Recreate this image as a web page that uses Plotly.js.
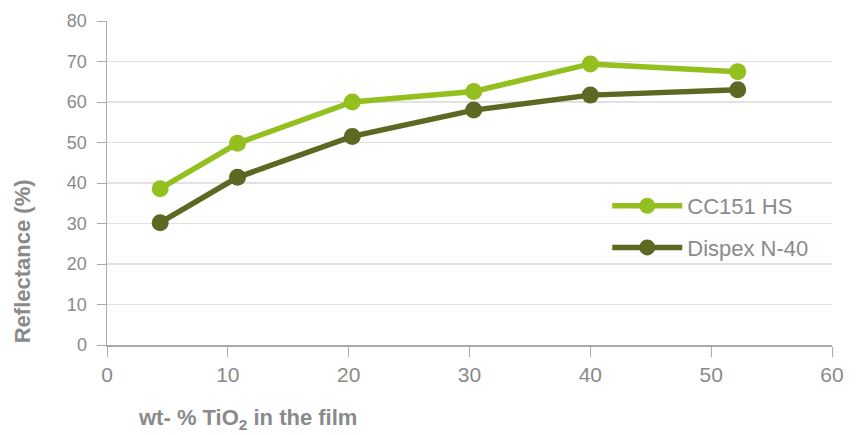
<!DOCTYPE html>
<html>
<head>
<meta charset="utf-8">
<script src="https://cdn.plot.ly/plotly-3.0.1.min.js"></script>
<style>
  html, body { margin: 0; padding: 0; background: #ffffff; }
  #chart { width: 859px; height: 435px; }
</style>
</head>
<body>
<div id="chart"></div>
<script>
// Data
const tio2Wt = [4.4, 10.8, 20.3, 30.35, 40.0, 52.2];
const cc151hs = [38.6, 49.8, 60.0, 62.6, 69.4, 67.5];
const dispexN40 = [30.2, 41.4, 51.5, 58.0, 61.7, 63.0];
const seriesNames = ["CC151 HS", "Dispex N-40"];
const yTitle = "Reflectance (%)";
const xTitle = "wt- % TiO<sub>2</sub> in the film";

const lightGreen = "#93c01f";
const darkOlive = "#5d6823";
const textGray = "#8a8a8a";
const axisGray = "#aaaaaa";
const gridGray = "#e2e2e2";

const traces = [
  {
    x: tio2Wt, y: cc151hs, name: seriesNames[0], type: "scatter", mode: "lines+markers",
    legendgroup: "a",
    line: { color: lightGreen, width: 5.5 },
    marker: { color: lightGreen, size: 17 }
  },
  {
    x: tio2Wt, y: dispexN40, name: seriesNames[1], type: "scatter", mode: "lines+markers",
    legendgroup: "b",
    line: { color: darkOlive, width: 5.5 },
    marker: { color: darkOlive, size: 17 }
  }
];

const layout = {
  width: 859, height: 435,
  margin: { l: 107, r: 27, t: 21, b: 90 },
  paper_bgcolor: "#ffffff", plot_bgcolor: "#ffffff",
  font: { family: "Liberation Sans, Arial, sans-serif", color: textGray },
  showlegend: true,
  legend: {
    x: 0.69, y: 0.364, xanchor: "left", yanchor: "middle",
    bgcolor: "rgba(0,0,0,0)", borderwidth: 0,
    font: { size: 22, color: textGray },
    traceorder: "grouped", tracegroupgap: 10,
    itemwidth: 70
  },
  xaxis: {
    range: [0, 60], dtick: 10, tick0: 0,
    showgrid: false, zeroline: false,
    showline: true, linecolor: axisGray, linewidth: 1.5,
    ticks: "outside", ticklen: 10, tickcolor: axisGray, tickwidth: 1,
    tickfont: { size: 21, color: textGray }
  },
  yaxis: {
    range: [0, 80], dtick: 10, tick0: 0,
    showgrid: true, gridcolor: gridGray, gridwidth: 1.5, zeroline: false,
    showline: true, linecolor: axisGray, linewidth: 1.5,
    ticks: "outside", ticklen: 9, tickcolor: axisGray, tickwidth: 1,
    ticklabelstandoff: 6,
    tickfont: { size: 18, color: textGray }
  },
  annotations: [
    {
      text: "<b>" + yTitle + "</b>", xref: "paper", yref: "paper",
      x: -0.116, y: 0.258, xanchor: "center", yanchor: "middle",
      textangle: -90, showarrow: false,
      font: { size: 22, color: textGray }
    },
    {
      text: "<b>" + xTitle + "</b>", xref: "paper", yref: "paper",
      x: 0.04, y: -0.228, xanchor: "left", yanchor: "middle",
      showarrow: false,
      font: { size: 22, color: textGray }
    }
  ]
};

Plotly.newPlot("chart", traces, layout, { staticPlot: true, displayModeBar: false });
</script>
</body>
</html>
